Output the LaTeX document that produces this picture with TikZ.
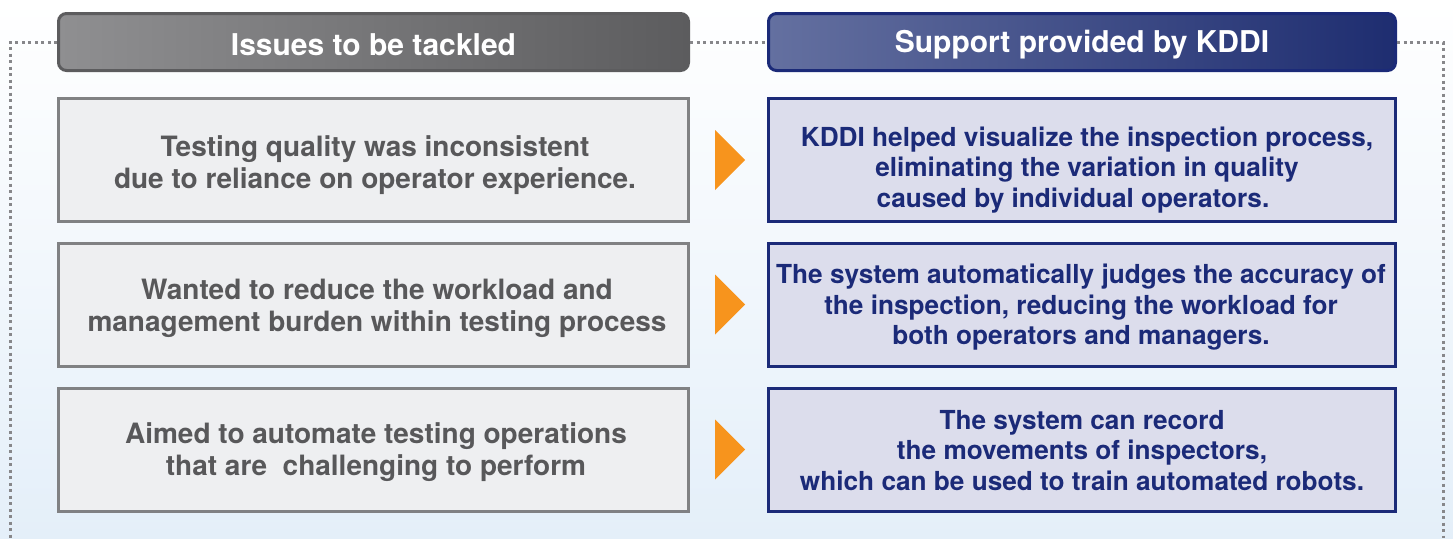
\documentclass[tikz,border=0pt]{standalone}
\usepackage{fontspec}
\setmainfont{TeX Gyre Heros}

\definecolor{issuetext}{RGB}{88,88,90}
\definecolor{issueline}{RGB}{128,129,131}
\definecolor{issuefill}{RGB}{238,239,241}
\definecolor{kddinavy}{RGB}{27,42,120}
\definecolor{kddifill}{RGB}{220,221,236}
\definecolor{headgrayL}{RGB}{143,143,145}
\definecolor{headgrayR}{RGB}{92,92,94}
\definecolor{headblueL}{RGB}{100,112,160}
\definecolor{headblueR}{RGB}{30,45,112}
\definecolor{pointerorange}{RGB}{247,148,29}
\definecolor{dotgray}{RGB}{135,135,138}
\definecolor{bgblue}{RGB}{228,239,249}

\tikzset{
  issue/.style={draw=issueline, line width=3pt, fill=issuefill,
    minimum width=630pt, minimum height=123pt},
  support/.style={draw=kddinavy, line width=3pt, fill=kddifill,
    minimum width=627pt, minimum height=123pt},
  issuetxt/.style={align=center, text=issuetext,
    font=\fontsize{28}{32}\selectfont\bfseries},
  supporttxt/.style={align=center, text=kddinavy,
    font=\fontsize{26.2}{30.5}\selectfont\bfseries},
  head/.style={rounded corners=8pt, line width=3pt, minimum height=57pt},
  headtxt/.style={text=white, font=\fontsize{30}{34}\selectfont\bfseries},
  frame/.style={draw=dotgray, line width=3pt, dash pattern=on 3pt off 3.5pt},
}

\begin{document}
\begin{tikzpicture}[x=1pt,y=1pt,yscale=-1]
\useasboundingbox (0,0) rectangle (1453,538);
% background
\shade[top color=white, bottom color=bgblue] (0,0) rectangle (1453,538);

% column headers
\node[head, draw=headgrayR, left color=headgrayL, right color=headgrayR,
  minimum width=630pt] (hdrIssue) at (373.5,42) {};
\node[head, draw=kddinavy, left color=headblueL, right color=headblueR,
  minimum width=627pt] (hdrKddi) at (1082,42) {};
\node[headtxt] (hdrIssueTxt) at (373.5,45) {Issues to be tackled};
\node[headtxt] (hdrKddiTxt) at (1082,45) {Support provided by KDDI};

% dotted frame round both columns
\coordinate (frameL) at (10,538);
\coordinate (frameR) at (1443,538);
\draw[frame] (hdrIssue.west) -| (frameL);
\draw[frame] (hdrIssue.east) -- (hdrKddi.west);
\draw[frame] (hdrKddi.east) -| (frameR);

% issue boxes
\node[issue] (iss1) at (373.5,160) {};
\node[issue] (iss2) at (373.5,304.5) {};
\node[issue] (iss3) at (373.5,449.5) {};
\node[issuetxt] (iss1txt) at (375,165) {Testing quality was inconsistent\\due to reliance on operator experience.};
\node[issuetxt] (iss2txt) at (377,308) {Wanted to reduce the workload and\\management burden within testing process};
\node[issuetxt] (iss3txt) at (376,452) {Aimed to automate testing operations\\that are\ \ challenging to perform};

% support boxes
\node[support] (sup1) at (1082,160) {};
\node[support] (sup2) at (1082,304.5) {};
\node[support] (sup3) at (1082,449.5) {};
\node[supporttxt] (sup1txt) at (1087,170) {KDDI helped visualize the inspection process,\\eliminating the variation in quality\hspace*{36pt}\\caused by individual operators.\hspace*{28pt}};
\node[supporttxt] (sup2txt) at (1081,307.5) {The system automatically judges the accuracy of\\the inspection, reducing the workload for\\both operators and managers.};
\node[supporttxt] (sup3txt) at (1082,450.5) {The system can record\\the movements of inspectors,\\which can be used to train automated robots.};

% orange pointers
\foreach \y in {160,304.5,449.5}
  \fill[pointerorange] (715,\y-30) -- (745,\y) -- (715,\y+30) -- cycle;
\end{tikzpicture}
\end{document}
